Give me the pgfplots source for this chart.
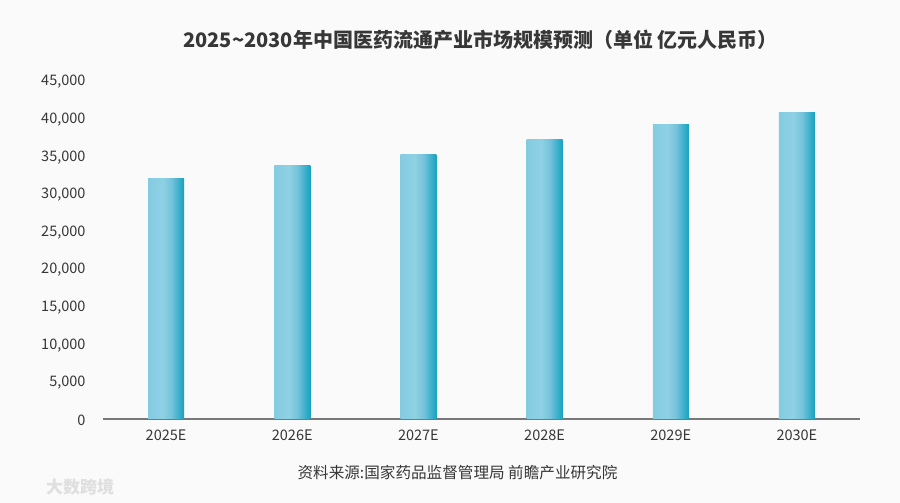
\documentclass[border=0pt]{standalone}
\usepackage{pgfplots}
\pgfplotsset{compat=1.18}
\usepackage{fontspec}
\setmainfont{Noto Sans CJK SC}
\definecolor{bgc}{RGB}{250,250,250}
\definecolor{txt}{RGB}{55,55,55}
\definecolor{cA}{RGB}{132,203,225}
\definecolor{cB}{RGB}{143,209,228}
\definecolor{cC}{RGB}{118,195,219}
\definecolor{cD}{RGB}{22,162,191}
\pgfdeclarehorizontalshading{barshade}{100bp}{color(0bp)=(cA); color(25bp)=(cA); color(45bp)=(cB); color(57bp)=(cC); color(75bp)=(cD); color(100bp)=(cD)}
\begin{document}
\begin{tikzpicture}
\fill[bgc] (0,0) rectangle (900bp,503bp);
\begin{axis}[
  at={(103bp,84bp)}, anchor=south west,
  scale only axis, width=757bp, height=338.5bp,
  xmin=-0.5, xmax=5.5, ymin=0, ymax=45000,
  axis y line*=left, axis x line*=bottom,
  y axis line style={draw=none},
  x axis line style={-, draw={rgb,255:red,120;green,120;blue,120}, line width=1.3bp},
  xtick={0,1,2,3,4,5},
  xticklabels={2025E,2026E,2027E,2028E,2029E,2030E},
  ytick={0,5000,10000,15000,20000,25000,30000,35000,40000,45000},
  major tick length=0pt,
  scaled y ticks=false,
  /pgf/number format/.cd, 1000 sep={,}, assume math mode=true, /pgfplots/.cd,
  ticklabel style={font=\fontsize{14.5bp}{17bp}\selectfont, text=txt},
  xticklabel style={yshift=-7bp},
  yticklabel style={xshift=-14bp, yshift=-1.5bp},
  clip=false,
  no markers,
  every axis plot/.append style={ybar, bar width=36bp, bar shift=0pt, draw=none, shading=barshade, mark=none},
]
\addplot coordinates {(0,32000)};
\addplot coordinates {(1,33700)};
\addplot coordinates {(2,35100)};
\addplot coordinates {(3,37100)};
\addplot coordinates {(4,39200)};
\addplot coordinates {(5,40700)};
\end{axis}
\node[text=txt, font=\fontsize{20bp}{24bp}\selectfont\bfseries] at (480.5bp,463bp) {2025\textasciitilde 2030年中国医药流通产业市场规模预测（单位 亿元人民币）};
\node[text=txt, font=\fontsize{15.6bp}{18bp}\selectfont] at (457.5bp,30bp) {资料来源:国家药品监督管理局 前瞻产业研究院};
\node[text=gray!25, font=\fontsize{17bp}{20bp}\selectfont\bfseries] at (80bp,16bp) {大数跨境};
\end{tikzpicture}
\end{document}
